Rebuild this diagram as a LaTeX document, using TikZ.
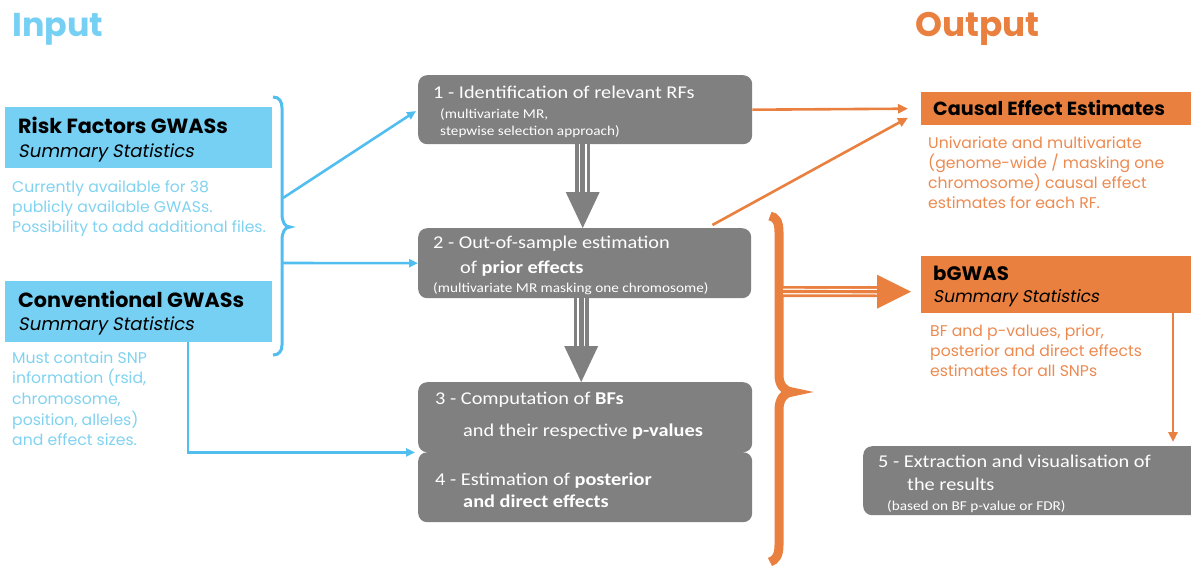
\documentclass[tikz,border=0pt]{standalone}
\usepackage{fontspec}
\setmainfont[FakeStretch=1.13]{Carlito}
\newfontfamily\fut[FakeStretch=1.01]{Poppins}
\newfontfamily\futit[FakeStretch=1.01,FakeSlant=0.18]{Poppins}
\usetikzlibrary{arrows.meta,calc}
\definecolor{inblue}{RGB}{118,208,243}
\definecolor{descblue}{RGB}{128,210,240}
\definecolor{linkblue}{RGB}{82,190,240}
\definecolor{orng}{RGB}{233,128,63}
\definecolor{descorng}{RGB}{236,138,80}
\definecolor{boxgray}{RGB}{128,128,128}
\newcommand\fsz[1]{\fontsize{#1}{#1}\selectfont}
\begin{document}
\begin{tikzpicture}[x=1pt,y=-1pt,
  txt/.style={inner sep=0pt, anchor=base west},
  graybox/.style={fill=boxgray, rounded corners=9pt, anchor=north west, inner sep=0pt},
  bluebox/.style={fill=inblue, anchor=north west, inner sep=0pt},
  orbox/.style={fill=orng, anchor=north west, inner sep=0pt},
  head/.style={txt, font=\fut\bfseries\fsz{20.5}},
  subhead/.style={txt, font=\futit\fsz{18}},
  bdesc/.style={txt, text=descblue, font=\fut\fsz{15.5}},
  odesc/.style={txt, text=descorng, font=\fut\fsz{15.5}},
  gmain/.style={txt, text=white, font=\fsz{18}},
  gsub/.style={txt, text=white, font=\fsz{13.5}},
  blink/.style={draw=linkblue, line width=2.6pt, -{Triangle[length=9pt,width=8pt]}},
  olink/.style={draw=orng, line width=2.6pt, -{Triangle[length=10pt,width=9pt]}},
]
\useasboundingbox (0,0) rectangle (1191,565);

% ---------- boxes ----------
\node[bluebox, minimum width=267pt, minimum height=61pt] (rf) at (5,107) {};
\node[bluebox, minimum width=267pt, minimum height=61pt] (cv) at (5,281) {};
\node[graybox, minimum width=334pt, minimum height=69pt] (b1) at (418,75) {};
\node[graybox, minimum width=333pt, minimum height=70pt] (b2) at (418,228) {};
\node[graybox, minimum width=334pt, minimum height=70pt] (b3) at (418,382) {};
\node[graybox, minimum width=334pt, minimum height=70pt] (b4) at (418,452) {};
\node[graybox, minimum width=345pt, minimum height=69pt] (b5) at (863,446) {};
\node[orbox, minimum width=280pt, minimum height=33pt] (ce) at (921,92) {};
\node[orbox, minimum width=280pt, minimum height=57pt] (bg) at (921,256) {};

% ---------- titles ----------
\node[txt, text=inblue, font=\fut\bfseries\fsz{33}] (tin) at (12,36) {Input};
\node[txt, text=orng, font=\fut\bfseries\fsz{34}] (tout) at (915,36) {Output};

% ---------- input side ----------
\node[head] (rft) at (18,133) {Risk Factors GWASs};
\node[subhead] (rfs) at (18,157) {Summary Statistics};
\node[bdesc] (rfd1) at (12,192) {Currently available for 38};
\node[bdesc] (rfd2) at (12,212) {publicly available GWASs.};
\node[bdesc] (rfd3) at (12,232) {Possibility to add additional files.};

\node[head] (cvt) at (18,307) {Conventional GWASs};
\node[subhead] (cvs) at (18,330) {Summary Statistics};
\node[bdesc] (cvd1) at (12,363) {Must contain SNP};
\node[bdesc] (cvd2) at (12,383) {information (rsid,};
\node[bdesc] (cvd3) at (12,404) {chromosome,};
\node[bdesc] (cvd4) at (12,425) {position, alleles)};
\node[bdesc] (cvd5) at (12,445) {and effect sizes.};

% ---------- pipeline steps ----------
\node[gmain] (b1t) at (433,98) {1 - Identification of relevant RFs};
\node[gsub] (b1s1) at (440,118) {(multivariate MR,};
\node[gsub] (b1s2) at (440,135) {stepwise selection approach)};

\node[gmain] (b2t) at (433,248) {2 - Out-of-sample estimation};
\node[gmain] (b2u) at (460,273) {of \textbf{prior effects}};
\node[gsub] (b2s) at (433,292) {(multivariate MR masking one chromosome)};

\node[gmain] (b3t) at (435,404) {3 - Computation of \textbf{BFs}};
\node[gmain] (b3u) at (463,436) {and their respective \textbf{p-values}};

\node[gmain] (b4t) at (435,485) {4 - Estimation of \textbf{posterior}};
\node[gmain] (b4u) at (463,507) {\textbf{and direct effects}};

\node[gmain] (b5t) at (878,467) {5 - Extraction and visualisation of};
\node[gmain] (b5u) at (907,490) {the results};
\node[gsub] (b5s) at (887,510) {(based on BF p-value or FDR)};

% ---------- output side ----------
\node[txt, font=\fut\bfseries\fsz{19}] (cet) at (933,115) {Causal Effect Estimates};
\node[odesc] (ced1) at (928,148) {Univariate and multivariate};
\node[odesc] (ced2) at (928,168) {(genome-wide / masking one};
\node[odesc] (ced3) at (928,188) {chromosome) causal effect};
\node[odesc] (ced4) at (928,208) {estimates for each RF.};

\node[txt, font=\fut\bfseries\fsz{19.5}] (bgt) at (933,280) {bGWAS};
\node[txt, font=\futit\fsz{17}] (bgs) at (933,302) {Summary Statistics};
\node[odesc] (bgd1) at (930,336) {BF and p-values, prior,};
\node[odesc] (bgd2) at (930,356) {posterior and direct effects};
\node[odesc] (bgd3) at (930,376) {estimates for all SNPs};

% ---------- input brace and its links ----------
\draw[linkblue, line width=3pt]
  (273,97) .. controls (279,97) and (282,101) .. (282,108) -- (282,214)
  .. controls (282,222) and (285,227) .. (290,227)
  .. controls (285,227) and (282,232) .. (282,240) -- (282,345)
  .. controls (282,351) and (279,355) .. (273,355);
\coordinate (brA) at (283,198);
\coordinate (brB) at (282,263);
\draw[blink] (brA) -- ($(b1.north west)+(-2,36)$);
\draw[blink] (brB) -- (b2.west);
\draw[blink] ($(cv.south west)+(183,0)$) |- ($(b3.south west)+(-3,0)$);

% ---------- step-to-step triple arrows ----------
\coordinate (g1a) at ($(b1.south)+(-2.5,0)$);
\coordinate (g1b) at ($(b2.north)+(-2,0)$);
\coordinate (g2a) at ($(b2.south)+(-3.5,0)$);
\coordinate (g2b) at ($(b3.north)+(-4,0)$);
\foreach \s/\e in {g1a/g1b, g2a/g2b}{
  \draw[boxgray, line width=15pt] (\s) -- ($(\e)+(0,-34)$);
  \draw[white, line width=7.6pt] (\s) -- ($(\e)+(0,-34)$);
  \draw[boxgray, line width=4.6pt] (\s) -- ($(\e)+(0,-34)$);
  \fill[boxgray] ($(\e)+(-17,-36)$) -- ($(\e)+(17,-36)$) -- (\e) -- cycle;
}

% ---------- output brace and its links ----------
\draw[orng, line width=9pt]
  (770,216) .. controls (776,217) and (779,222) .. (779,232) -- (779,375)
  .. controls (779,385) and (784,391) .. (792,392)
  .. controls (784,393) and (779,399) .. (779,410) -- (779,545)
  .. controls (779,555) and (776,560) .. (770,562);
\coordinate (obr) at (783,291.5);
\coordinate (otip) at ($(bg.west)+(-10,7)$);
\draw[orng, line width=11pt] (obr) -- ($(otip)+(-33,0)$);
\draw[white, line width=5.6pt] (obr) -- ($(otip)+(-33,0)$);
\draw[orng, line width=3.2pt] (obr) -- ($(otip)+(-33,0)$);
\fill[orng] ($(otip)+(-34,-17)$) -- ($(otip)+(-34,17)$) -- (otip) -- cycle;

\draw[olink] (b1.east) -- ($(ce.west)+(-13,0)$);
\draw[olink] ($(b2.north east)+(-39,-3)$) -- ($(ce.west)+(-13,9)$);
\draw[olink] ($(bg.south west)+(252,0)$) -- ($(b5.north west)+(310,-4)$);
\end{tikzpicture}
\end{document}
